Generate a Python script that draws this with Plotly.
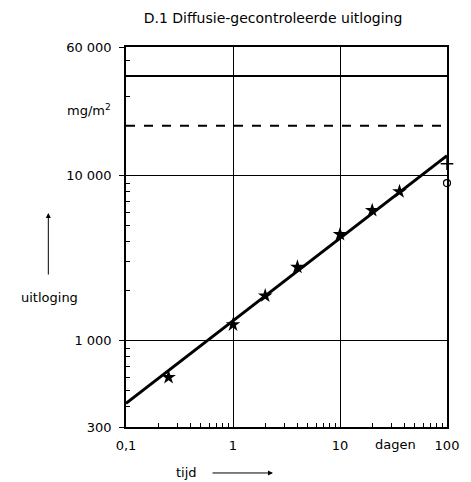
import plotly.graph_objects as go

# measured leaching data (days, mg/m2)
days = [0.25, 1, 2, 4, 10, 20, 36]
leach = [600, 1250, 1870, 2790, 4400, 6150, 8000]
# last measurements at 100 days
end_day = [100]
end_plus = [11800]
end_circle = [9000]
# diffusion fit line (slope 0.5)
fit_days = [0.1, 100]
fit_leach = [417, 13200]
# limit lines
limit_solid = [40000, 40000]
limit_dashed = [20000, 20000]
limit_days = [0.1, 100]

xtick_vals = [0.1, 1, 10, 100]
xtick_text = ["0,1", "1", "10", "100"]
ytick_vals = [300, 1000, 10000, 60000]
ytick_text = ["300", "1 000", "10 000", "60 000"]
xminor = [0.2, 0.3, 0.4, 0.5, 0.6, 0.7, 0.8, 0.9, 2, 3, 4, 5, 6, 7, 8, 9,
          20, 30, 40, 50, 60, 70, 80, 90]
yminor = [400, 500, 600, 700, 800, 900, 2000, 3000, 4000, 5000, 6000, 7000,
          8000, 9000, 20000, 30000, 40000, 50000]

FONT = "DejaVu Sans"
W, H = 463, 474  # page has 8px body margin

fig = go.Figure()
fig.add_trace(go.Scatter(x=limit_days, y=limit_solid, mode="lines",
                         line=dict(color="black", width=2), showlegend=False))
fig.add_trace(go.Scatter(x=limit_days, y=limit_dashed, mode="lines",
                         line=dict(color="black", width=2, dash="dash"), showlegend=False))
fig.add_trace(go.Scatter(x=fit_days, y=fit_leach, mode="lines",
                         line=dict(color="black", width=3), showlegend=False))
fig.add_trace(go.Scatter(x=days, y=leach, mode="markers",
                         marker=dict(symbol="star", size=11, color="black"),
                         showlegend=False))
fig.add_trace(go.Scatter(x=end_day, y=end_plus, mode="markers", cliponaxis=False,
                         marker=dict(symbol="cross-thin", size=9, color="black",
                                     line=dict(color="black", width=1.5)),
                         showlegend=False))
fig.add_trace(go.Scatter(x=end_day, y=end_circle, mode="markers", cliponaxis=False,
                         marker=dict(symbol="circle-open", size=7, color="black",
                                     line=dict(color="black", width=1.2)),
                         showlegend=False))

fig.update_xaxes(type="log", range=[-1, 2], tickvals=xtick_vals, ticktext=xtick_text,
                 showgrid=True, gridcolor="black", gridwidth=1,
                 showline=True, linecolor="black", linewidth=1.5, mirror=True,
                 ticks="", zeroline=False, ticklabelstandoff=6,
                 minor=dict(tickvals=xminor, ticks="inside", ticklen=4,
                            tickcolor="black", showgrid=False),
                 tickfont=dict(family=FONT, size=13, color="black"))
fig.update_yaxes(type="log", range=[2.4771, 4.7782], tickvals=ytick_vals, ticktext=ytick_text,
                 showgrid=True, gridcolor="black", gridwidth=1,
                 showline=True, linecolor="black", linewidth=1.5, mirror=True,
                 ticks="outside", ticklen=5, tickcolor="black", zeroline=False,
                 ticklabelstandoff=5,
                 minor=dict(tickvals=yminor, ticks="inside", ticklen=4,
                            tickcolor="black", showgrid=False),
                 tickfont=dict(family=FONT, size=13, color="black"))

fig.update_layout(
    width=W, height=H,
    margin=dict(l=118, r=15, t=39, b=55),
    plot_bgcolor="white", paper_bgcolor="white",
    title=dict(text="D.1 Diffusie-gecontroleerde uitloging", x=265/W, xanchor="center",
               y=1-10/H, yanchor="middle", xref="container", yref="container",
               font=dict(family=FONT, size=14, color="black")),
    annotations=[
        dict(text="mg/m<sup>2</sup>", xref="paper", yref="paper", x=-0.04, y=0.834,
             xanchor="right", yanchor="middle", showarrow=False,
             font=dict(family=FONT, size=13, color="black")),
        dict(text="dagen", xref="paper", yref="paper", x=0.839, y=-0.047,
             xanchor="center", yanchor="middle", showarrow=False,
             font=dict(family=FONT, size=13, color="black")),
        dict(text="tijd", xref="paper", yref="paper", x=0.19, y=-0.121,
             xanchor="center", yanchor="middle", showarrow=False,
             font=dict(family=FONT, size=13, color="black")),
        dict(text="", xref="paper", yref="paper", x=0.458, y=-0.121,
             ax=-62, ay=0, showarrow=True, arrowhead=2, arrowsize=1, arrowwidth=1,
             arrowcolor="black"),
        dict(text="uitloging", xref="paper", yref="paper", x=-0.239, y=0.342,
             xanchor="center", yanchor="middle", showarrow=False,
             font=dict(family=FONT, size=13, color="black")),
        dict(text="", xref="paper", yref="paper", x=-0.242, y=0.563,
             ax=0, ay=63, showarrow=True, arrowhead=2, arrowsize=1, arrowwidth=1,
             arrowcolor="black"),
    ],
)

fig.write_html("out.html")
